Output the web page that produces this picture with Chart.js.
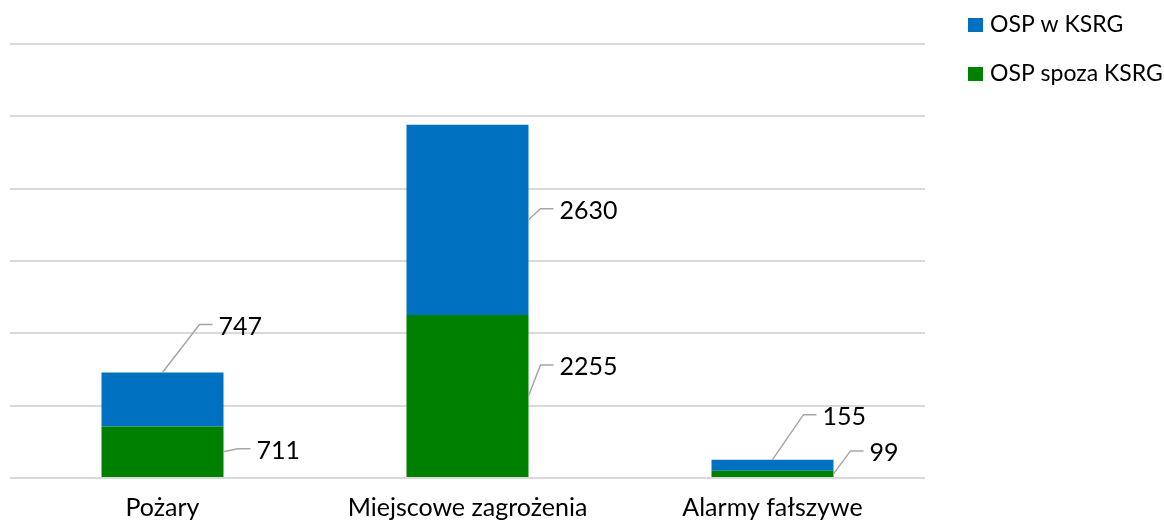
<!DOCTYPE html>
<html>
<head>
<meta charset="utf-8">
<script src="https://cdn.jsdelivr.net/npm/chart.js@4/dist/chart.umd.min.js"></script>
<style>
  html, body { margin: 0; padding: 0; background: #fff; }
  #wrap { width: 1164px; height: 524px; }
</style>
</head>
<body>
<div id="wrap"><canvas id="chart"></canvas></div>
<script>
// data
const categories = ["Pożary", "Miejscowe zagrożenia", "Alarmy fałszywe"];
const ospSpozaKsrg = [711, 2255, 99];
const ospWKsrg = [747, 2630, 155];
const yTicks = [0, 1000, 2000, 3000, 4000, 5000, 6000];

const FONT = "Lato, 'Open Sans', sans-serif";

// callout offsets per dataset / bar (anchor: 'top' = bar top centre, 'side' = right edge, middle)
const callouts = [
  // green
  [{ anchor: "side", dx: 14, dy: -3 }, { anchor: "side", dx: 12, dy: -31 }, { anchor: "side", dx: 17, dy: -23 }],
  // blue
  [{ anchor: "top", dx: 37, dy: -48 }, { anchor: "side", dx: 12, dy: -11 }, { anchor: "top", dx: 31, dy: -45 }]
];

const calloutPlugin = {
  id: "callouts",
  afterDatasetsDraw(chart) {
    const ctx = chart.ctx;
    ctx.save();
    chart.data.datasets.forEach((ds, di) => {
      const meta = chart.getDatasetMeta(di);
      meta.data.forEach((bar, i) => {
        const c = callouts[di][i];
        const half = bar.width / 2;
        let ax, ay;
        if (c.anchor === "top") {
          ax = bar.x; ay = bar.y;
        } else {
          ax = bar.x + half; ay = (bar.y + bar.base) / 2;
        }
        const ex = ax + c.dx, ey = ay + c.dy;
        ctx.strokeStyle = "#a6a6a6";
        ctx.lineWidth = 1.5;
        ctx.beginPath();
        ctx.moveTo(ax, ay);
        ctx.lineTo(ex, ey);
        ctx.lineTo(ex + 13, ey);
        ctx.stroke();
        ctx.fillStyle = "#000";
        ctx.font = "25px " + FONT;
        ctx.textBaseline = "middle";
        ctx.textAlign = "left";
        ctx.fillText(String(ds.data[i]), ex + 19, ey + 2);
      });
    });
    ctx.restore();
  }
};

const legendPlugin = {
  id: "sideLegend",
  afterDraw(chart) {
    const ctx = chart.ctx;
    const items = [chart.data.datasets[1], chart.data.datasets[0]];
    ctx.save();
    ctx.font = "23px " + FONT;
    ctx.textBaseline = "middle";
    items.forEach((ds, k) => {
      const y = 25 + k * 49;
      ctx.fillStyle = ds.backgroundColor;
      ctx.fillRect(968, y - 7, 15, 14);
      ctx.fillStyle = "#000";
      ctx.fillText(ds.label, 990, y);
    });
    ctx.restore();
  }
};

new Chart(document.getElementById("chart"), {
  type: "bar",
  data: {
    labels: categories,
    datasets: [
      { label: "OSP spoza KSRG", data: ospSpozaKsrg, backgroundColor: "#008000" },
      { label: "OSP w KSRG", data: ospWKsrg, backgroundColor: "#0070C0" }
    ]
  },
  options: {
    responsive: true,
    maintainAspectRatio: false,
    animation: false,
    layout: { padding: { left: 10, right: 239, top: 44, bottom: 0 } },
    datasets: { bar: { categoryPercentage: 1, barPercentage: 0.4 } },
    plugins: {
      legend: { display: false },
      tooltip: { enabled: false }
    },
    scales: {
      x: {
        stacked: true,
        grid: { display: false, drawTicks: false },
        border: { display: false },
        ticks: { color: "#000", font: { family: FONT, size: 25 }, padding: 15 },
        afterFit(axis) { axis.height = 46; }
      },
      y: {
        stacked: true,
        min: yTicks[0],
        max: yTicks[yTicks.length - 1],
        afterBuildTicks(axis) { axis.ticks = yTicks.map(v => ({ value: v })); },
        ticks: { display: false },
        grid: { color: "#d9d9d9", lineWidth: 2, drawTicks: false },
        border: { display: false }
      }
    }
  },
  plugins: [calloutPlugin, legendPlugin]
});
</script>
</body>
</html>
